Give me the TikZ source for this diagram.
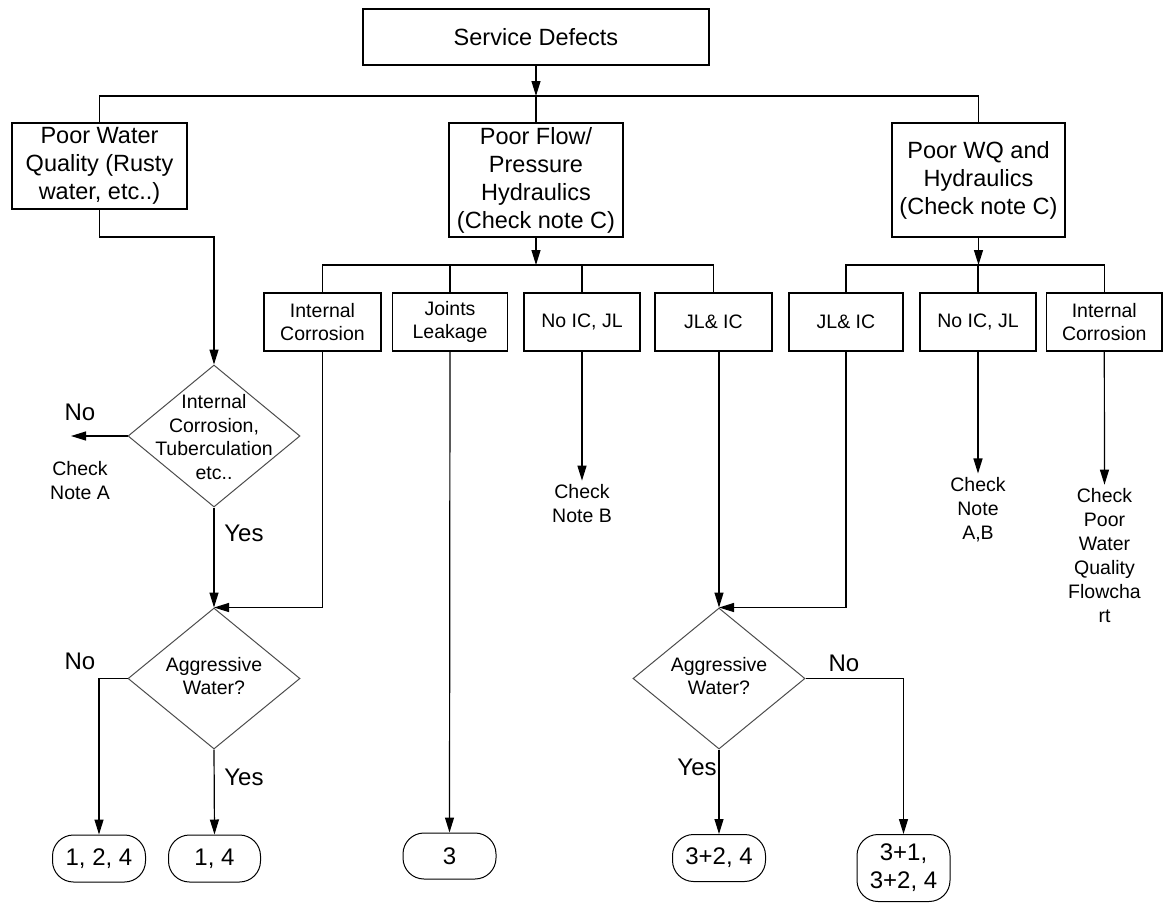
\documentclass[tikz,border=0pt]{standalone}
\usepackage{fontspec}
\setmainfont{Liberation Sans}
\usetikzlibrary{arrows.meta,shapes.geometric}
\begin{document}
\begin{tikzpicture}[x=1pt,y=-1pt,
  big/.style={font=\fontsize{23.5}{28}\selectfont},
  small/.style={font=\fontsize{19.5}{23}\selectfont},
  lab/.style={font=\fontsize{24}{28}\selectfont, inner sep=0pt},
  note/.style={font=\fontsize{19.5}{24}\selectfont, align=center, inner sep=0pt},
  box/.style={draw, line width=1.2pt, inner sep=0pt, align=center},
  dia/.style={draw=black!70, diamond, line width=1pt, inner sep=0pt},
  dtext/.style={font=\fontsize{19.5}{23.5}\selectfont, align=center, inner sep=0pt},
  term/.style={draw, rounded corners=21pt, line width=1pt, inner sep=0pt, align=center, font=\fontsize{24}{28}\selectfont},
  arr/.style={-{Triangle[length=15pt,width=9pt]}, line width=1.2pt},
  ln/.style={line width=1.2pt}
]
\useasboundingbox (0,0) rectangle (1165,903);

% top
\node[box,big,minimum width=346pt,minimum height=56pt] (sd) at (536,37) {Service Defects};
\node[box,big,minimum width=175pt,minimum height=86pt] (pwq) at (99.5,166) {Poor Water\\Quality (Rusty\\water, etc..)};
\node[box,big,minimum width=174pt,minimum height=114pt] (pfp) at (536,180) {Poor Flow/\\Pressure\\Hydraulics\\(Check note C)};
\node[box,big,minimum width=173pt,minimum height=114pt] (pwqh) at (978.5,180) {Poor WQ and\\Hydraulics\\(Check note C)};

% second level
\node[box,small,minimum width=117pt,minimum height=58pt] (b1) at (322.5,322) {Internal\\Corrosion};
\node[box,small,minimum width=115pt,minimum height=58pt] (b2) at (450,322) {Joints\\Leakage};
\node[box,small,minimum width=116pt,minimum height=58pt] (b3) at (582,322) {No IC, JL};
\node[box,small,minimum width=117pt,minimum height=58pt] (b4) at (713.5,322) {JL\& IC};
\node[box,small,minimum width=114pt,minimum height=58pt] (b5) at (846,322) {JL\& IC};
\node[box,small,minimum width=116pt,minimum height=58pt] (b6) at (978,322) {No IC, JL};
\node[box,small,minimum width=115.5pt,minimum height=58pt] (b7) at (1104.3,322) {Internal\\Corrosion};

% diamonds
\node[dia,minimum width=172pt,minimum height=142pt] (d1) at (214,436) {};
\node[dtext] (d1t) at (214,437) {Internal\\Corrosion,\\Tuberculation\\etc..};
\node[dia,minimum width=172pt,minimum height=141pt] (d2) at (214,678.5) {};
\node[dtext] (d2t) at (214,676) {Aggressive\\Water?};
\node[dia,minimum width=172pt,minimum height=141pt] (d3) at (719,678.5) {};
\node[dtext] (d3t) at (719,676) {Aggressive\\Water?};

% terminals
\node[term,minimum width=93pt,minimum height=47pt] (t1) at (99,858.5) {1, 2, 4};
\node[term,minimum width=92pt,minimum height=47pt] (t2) at (214.5,858.5) {1, 4};
\node[term,minimum width=93pt,minimum height=46pt] (t3) at (449.5,856) {3};
\node[term,minimum width=93pt,minimum height=47pt] (t4) at (719,858) {3+2, 4};
\node[term,minimum width=93pt,minimum height=67pt] (t5) at (903.5,868) {3+1,\\3+2, 4};

% labels and notes
\node[lab] (no1) at (80,412) {No};
\node[note] (chkA) at (80,481) {Check\\Note A};
\node[lab] (yes1) at (244,533) {Yes};
\node[lab] (no2) at (80,661) {No};
\node[lab] (yes2) at (244,777) {Yes};
\node[note] (chkB) at (582,504) {Check\\Note B};
\node[note] (chkAB) at (978,510) {Check\\Note\\A,B};
\node[note] (chkP) at (1104.5,556) {Check\\Poor\\Water\\Quality\\Flowcha\\rt};
\node[lab] (no3) at (844,663) {No};
\node[lab] (yes3) at (697,767) {Yes};

% junctions
\coordinate (j0) at (536,96);
\coordinate (j1) at (536,265);
\coordinate (j2) at (978.5,265);
\coordinate (k1) at (214,237);
\coordinate (noend) at (71,436);

% connectors
\draw[arr] (sd.south) -- (j0);
\draw[ln] (pwq.north) |- (pwqh.north |- j0) -- (pwqh.north);
\draw[ln] (pfp.north) -- (j0);

\draw[arr] (pfp.south) -- (j1);
\draw[ln] (b1.north) |- (b4.north |- j1) -- (b4.north);
\draw[ln] (b2.north) -- (b2.north |- j1);
\draw[ln] (b3.north) -- (b3.north |- j1);

\draw[arr] (pwqh.south) -- (j2);
\draw[ln] (b5.north) |- (b7.north |- j2) -- (b7.north);
\draw[ln] (b6.north) -- (b6.north |- j2);

\draw[arr] (pwq.south) |- (k1) -- (d1.north);
\draw[arr] (d1.west) -- (noend);
\draw[arr] (d1.south) -- (d2.north);
\draw[arr] (b1.south) |- (d2.north);
\draw[arr] (d2.west) -| (t1.north);
\draw[arr] (d2.south) -- (t2.north);
\draw[arr] (b2.south) -- (t3.north);
\draw[arr, shorten >=4pt] (b3.south) -- (chkB.north);
\draw[arr] (b4.south -| d3.north) -- (d3.north);
\draw[arr] (b5.south) |- (d3.north);
\draw[arr, shorten >=4pt] (b6.south) -- (chkAB.north);
\draw[arr, shorten >=4pt] (b7.south) -- (chkP.north);
\draw[arr] (d3.east) -| (t5.north);
\draw[arr] (d3.south) -- (t4.north);
\end{tikzpicture}
\end{document}
